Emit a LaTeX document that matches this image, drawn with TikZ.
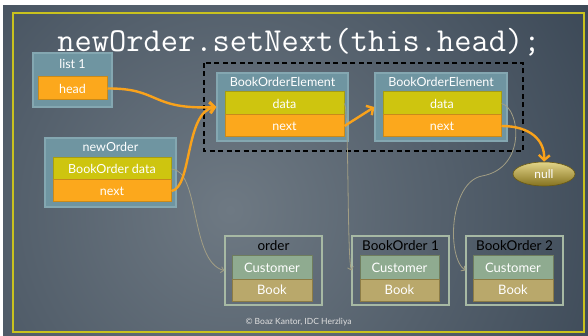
\documentclass[tikz,border=0pt]{standalone}
\usepackage{fontspec}
\setmainfont{Lato}
\usetikzlibrary{arrows.meta,shapes.geometric}
\definecolor{bgin}{HTML}{6E7983}
\definecolor{bgout}{HTML}{172536}
\definecolor{framey}{HTML}{C9C21E}
\definecolor{boxfill}{HTML}{6F95A1}
\definecolor{boxedge}{HTML}{84A7B1}
\definecolor{orfill}{HTML}{FCA81C}
\definecolor{oredge}{HTML}{C98A1A}
\definecolor{dafill}{HTML}{CEC50F}
\definecolor{daedge}{HTML}{A69D12}
\definecolor{arrowor}{HTML}{F9A21B}
\definecolor{thinc}{HTML}{A29E84}
\definecolor{bedge}{HTML}{A7B9A4}
\definecolor{cufill}{HTML}{8FAB90}
\definecolor{cuedge}{HTML}{6F7D5E}
\definecolor{bkfill}{HTML}{B9A86B}
\definecolor{bkedge}{HTML}{8C7C45}
\definecolor{nulltop}{HTML}{E2D488}
\definecolor{nullbot}{HTML}{85721F}
\definecolor{nulledge}{HTML}{6B5A12}
\begin{document}
\begin{tikzpicture}[x=1pt,y=-1pt,
  outerbox/.style={draw=boxedge, fill=boxfill, line width=1.2pt, inner sep=0pt},
  orbox/.style={draw=oredge, fill=orfill, line width=1pt, inner sep=0pt, text=white, font=\fontsize{12.5}{13}\selectfont},
  dabox/.style={draw=daedge, fill=dafill, line width=1pt, inner sep=0pt, text=white, font=\fontsize{12.5}{13}\selectfont},
  lbl/.style={text=white, inner sep=0pt, font=\fontsize{12.5}{13}\selectfont},
  blbl/.style={text=black, inner sep=0pt, font=\fontsize{13.5}{14}\selectfont},
  objbox/.style={draw=bedge, line width=1.2pt, inner sep=0pt, minimum width=97pt, minimum height=69pt},
  cubox/.style={draw=cuedge, fill=cufill, line width=1pt, inner sep=0pt, text=white, minimum width=80pt, minimum height=23pt, font=\fontsize{13}{13}\selectfont},
  bkbox/.style={draw=bkedge, fill=bkfill, line width=1pt, inner sep=0pt, text=white, minimum width=80pt, minimum height=22pt, font=\fontsize{13}{13}\selectfont},
  oarrow/.style={draw=arrowor, line width=2.4pt, -{Straight Barb[length=5pt,width=11pt]}},
  tarrow/.style={draw=thinc, line width=0.8pt, -{Straight Barb[length=3pt,width=6pt]}}
]
\useasboundingbox (0,0) rectangle (588,336);
\fill[white] (0,0) rectangle (588,336);
\begin{scope}
  \clip (3,6) rectangle (588,336);
  \shade[inner color=bgin, outer color=bgout] (230,210) circle (720pt);
\end{scope}
\draw[framey, line width=2pt] (13,13) rectangle (584,332);

% title
\node[text=white, inner sep=0pt, font=\ttfamily\fontsize{33.5}{34}\selectfont] (title) at (299,42) {newOrder.setNext(this.head);};

% dashed group
\draw[black, line width=1.2pt, dash pattern=on 5pt off 3.5pt] (204,63) rectangle (523,151);

% list 1
\node[outerbox, minimum width=79pt, minimum height=54pt] (list) at (72.5,80) {};
\node[lbl] (listlbl) at (72.5,64) {list 1};
\node[orbox, minimum width=69pt, minimum height=23pt] (head) at (72.5,88.5) {head};

% newOrder
\node[outerbox, minimum width=131pt, minimum height=69pt] (neworder) at (110.5,172.5) {};
\node[lbl] (newlbl) at (110.5,147) {newOrder};
\node[dabox, minimum width=118pt, minimum height=22pt] (data0) at (112,169) {BookOrder data};
\node[orbox, minimum width=118pt, minimum height=22pt] (next0) at (112,191) {next};

% BookOrderElement 1
\node[outerbox, minimum width=131pt, minimum height=68pt] (boe1) at (282.5,107) {};
\node[lbl] (boe1lbl) at (282.5,82) {BookOrderElement};
\node[dabox, minimum width=119pt, minimum height=23pt] (data1) at (284.5,103.5) {data};
\node[orbox, minimum width=119pt, minimum height=22pt] (next1) at (284.5,126) {next};

% BookOrderElement 2
\node[outerbox, minimum width=132pt, minimum height=68pt] (boe2) at (441,107) {};
\node[lbl] (boe2lbl) at (441,82) {BookOrderElement};
\node[dabox, minimum width=118pt, minimum height=23pt] (data2) at (442,103.5) {data};
\node[orbox, minimum width=118pt, minimum height=22pt] (next2) at (442,126) {next};

% null
\node[ellipse, draw=nulledge, line width=0.6pt, top color=nulltop, bottom color=nullbot, minimum width=62pt, minimum height=24pt, inner sep=0pt, text=white, font=\fontsize{12}{12}\selectfont] (null) at (544,174) {null};

% order objects
\node[objbox] (order) at (273.5,270.5) {};
\node[blbl] (orderlbl) at (273.5,246) {order};
\node[cubox] (cu0) at (272,267.5) {Customer};
\node[bkbox] (bk0) at (272,290) {Book};

\node[objbox] (bo1) at (400.5,270.5) {};
\node[blbl] (bo1lbl) at (400.5,246) {BookOrder 1};
\node[cubox, minimum width=79pt] (cu1) at (399.5,267.5) {Customer};
\node[bkbox, minimum width=79pt] (bk1) at (399.5,290) {Book};

\node[objbox] (bo2) at (514.5,270.5) {};
\node[blbl] (bo2lbl) at (514.5,246) {BookOrder 2};
\node[cubox] (cu2) at (513,267.5) {Customer};
\node[bkbox] (bk2) at (513,290) {Book};

% footer
\node[text=white!88!black, inner sep=0pt, font=\fontsize{8.5}{9}\selectfont] (foot) at (298.5,322) {© Boaz Kantor, IDC Herzliya};

% thin reference arrows
\draw[tarrow] (data0.east) .. controls (200,170) and (190,262) .. (order.west);
\draw[tarrow] (data1.east) .. controls (349,110) and (347,255) .. (bo1.west);
\draw[tarrow] (data2.east) .. controls (520,108) and (527,168) .. (482,176) .. controls (450,182) and (446,256) .. (bo2.west);

% orange next arrows
\draw[oarrow] (head.east) .. controls (160,88) and (150,110) .. (boe1.west);
\draw[oarrow] (next0.east) .. controls (192,188) and (185,112) .. (boe1.west);
\draw[oarrow] (next1.east) -- (boe2.west);
\draw[oarrow] (next2.east) .. controls (530,126) and (545,140) .. (null.north);
\end{tikzpicture}
\end{document}
